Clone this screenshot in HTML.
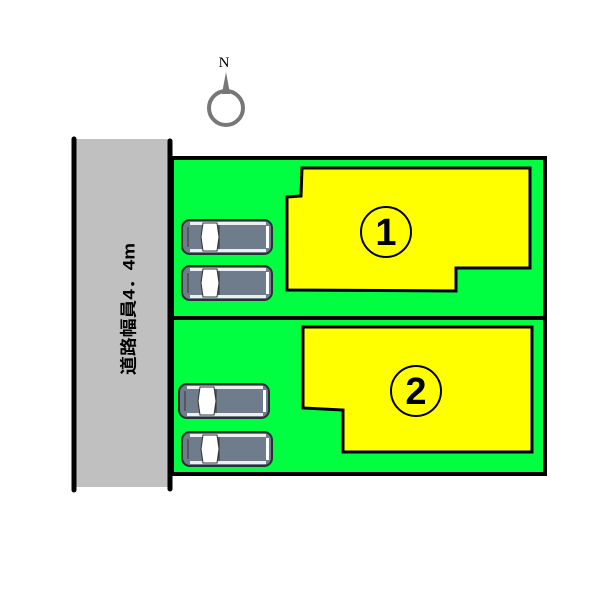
<!DOCTYPE html>
<html><head><meta charset="utf-8"><style>html,body{margin:0;padding:0;background:#fff;width:600px;height:600px;overflow:hidden}</style></head>
<body>
<svg width="600" height="600" viewBox="0 0 600 600" xmlns="http://www.w3.org/2000/svg">
<defs>
<g id="car">
<rect x="0" y="0" width="90" height="34" rx="8" fill="#6f7c8c" stroke="#2a2f36" stroke-width="2"/>
<rect x="8" y="2" width="76" height="3" fill="#eee"/>
<rect x="8" y="29" width="76" height="3" fill="#eee"/>
<path d="M21 3 L35 3 L37 17 L35 31 L21 31 L19 17 Z" fill="#fff" stroke="#333" stroke-width="1"/>
<line x1="37" y1="5" x2="37" y2="29" stroke="#333" stroke-width="1"/>
<rect x="84" y="6" width="3" height="22" fill="#fff"/>
<line x1="6" y1="7" x2="6" y2="27" stroke="#333" stroke-width="1"/>
</g>
</defs>
<rect x="75" y="139" width="94" height="348" fill="#c0c0c0"/>
<line x1="74" y1="139" x2="74" y2="490" stroke="#000" stroke-width="5" stroke-linecap="round"/>
<line x1="170" y1="141" x2="170" y2="489" stroke="#000" stroke-width="5" stroke-linecap="round"/>
<text transform="translate(129,309) rotate(-90)" text-anchor="middle" dominant-baseline="central" font-family="'Liberation Sans','Noto Sans CJK JP',sans-serif" font-size="17" font-weight="bold" fill="#000" textLength="132" lengthAdjust="spacingAndGlyphs">道路幅員4．4m</text>
<rect x="172" y="158" width="373" height="316" fill="#00ff40" stroke="#000" stroke-width="4"/>
<line x1="170" y1="318" x2="545" y2="318" stroke="#000" stroke-width="4"/>
<path d="M302 168 L530 168 L530 268 L456 268 L456 291 L287 290 L287 197 L301 196 Z" fill="#ffff00" stroke="#000" stroke-width="3"/>
<path d="M303 327 L532 327 L532 452 L343 452 L343 410 L303 408 Z" fill="#ffff00" stroke="#000" stroke-width="3"/>
<circle cx="386" cy="232" r="25" fill="none" stroke="#000" stroke-width="2"/>
<text x="386" y="233" text-anchor="middle" dominant-baseline="central" font-family="'Liberation Sans',sans-serif" font-size="38" font-weight="bold">1</text>
<circle cx="416" cy="391" r="25" fill="none" stroke="#000" stroke-width="2"/>
<text x="416" y="392" text-anchor="middle" dominant-baseline="central" font-family="'Liberation Sans',sans-serif" font-size="38" font-weight="bold">2</text>
<use href="#car" x="182" y="220"/>
<use href="#car" x="182" y="266"/>
<use href="#car" x="179" y="384"/>
<use href="#car" x="182" y="432"/>
<text x="224" y="67" text-anchor="middle" font-family="'Liberation Serif',serif" font-size="15" fill="#000">N</text>
<circle cx="226" cy="108" r="17" fill="none" stroke="#777" stroke-width="4"/>
<path d="M226 72 L229 88 L230 94 L222 94 L223 88 Z" fill="#777"/>
</svg>
</body></html>
